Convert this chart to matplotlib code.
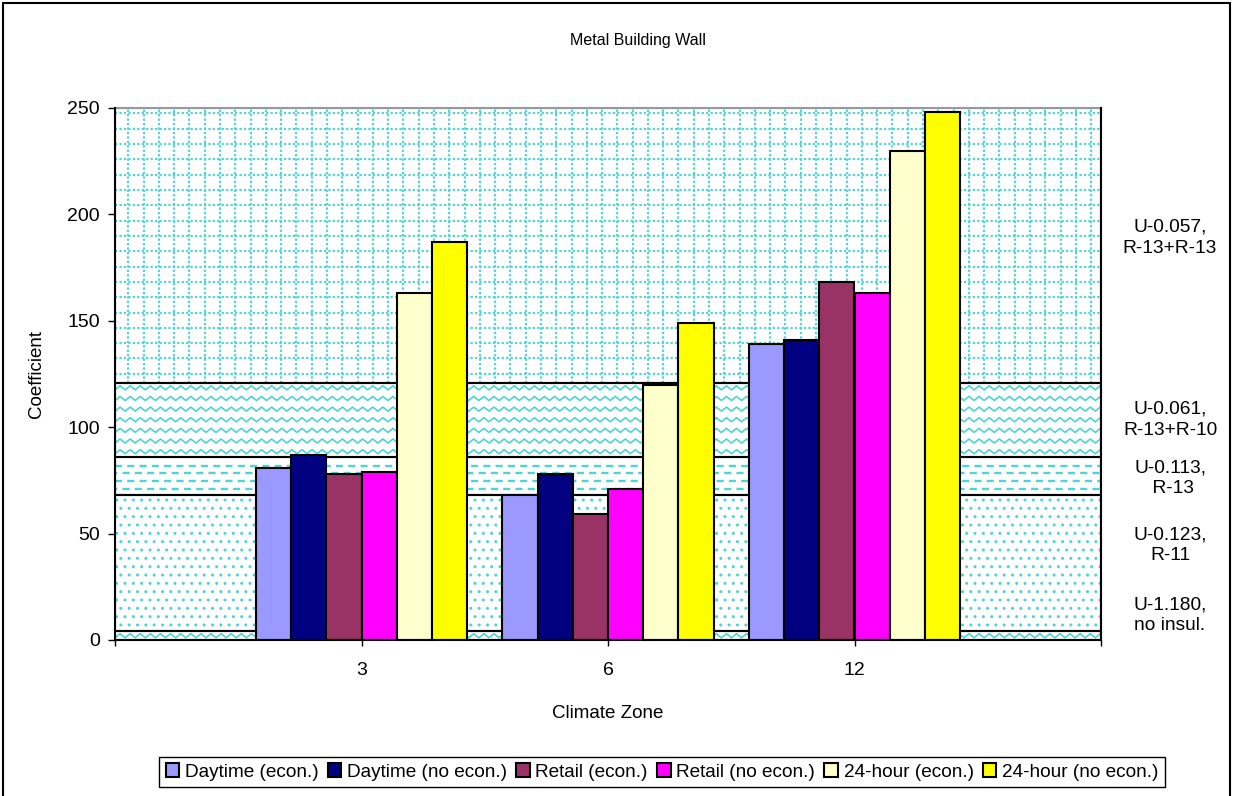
import numpy as np
import matplotlib.pyplot as plt
from matplotlib.patches import Rectangle

plt.rcParams['font.family'] = ['Liberation Sans', 'DejaVu Sans']

# climate zones on the x axis
zones = ['3', '6', '12']

# bar series (coefficient per zone)
series_names = ['Daytime (econ.)', 'Daytime (no econ.)', 'Retail (econ.)',
                'Retail (no econ.)', '24-hour (econ.)', '24-hour (no econ.)']
daytime_econ = [81, 68, 139]
daytime_noecon = [87, 78, 141]
retail_econ = [78, 59, 168]
retail_noecon = [79, 71, 163]
h24_econ = [163, 120, 230]
h24_noecon = [187, 149, 248]
series_colors = ['#9999ff', '#000080', '#993366', '#ff00ff', '#ffffcc', '#ffff00']

# insulation bands behind the bars (bottom to top)
band_edges = [0, 4, 68, 86, 121, 250]
band_labels = ['U-1.180,\nno insul.', 'U-0.123,\nR-11', 'U-0.113,\n R-13',
               'U-0.061,\nR-13+R-10', 'U-0.057,\nR-13+R-13']
band_label_y = [11.5, 44.5, 76, 103.5, 189]

cyan = '#4fd3d3'

fig = plt.figure(figsize=(12.33, 7.96), dpi=100)
ax = fig.add_axes([115 / 1233, 1 - 640 / 796, 986 / 1233, 532 / 796])
ax.set_xlim(-1, 3)
ax.set_ylim(0, 250)

x0, x1 = -1, 3


def zigzag(lo, hi, spacing=4.7, amp=0.95, half=0.0205):
    xs = np.arange(x0, x1 + half, half)
    offs = np.where(np.arange(len(xs)) % 2 == 0, -amp, amp)
    n = max(1, int(round((hi - lo) / spacing)))
    step = (hi - lo) / n
    for k in range(n):
        yc = lo + step * (k + 0.5)
        ax.plot(xs, yc + offs, color=cyan, lw=1.2, zorder=1, solid_joinstyle='round')


# band 0: thin zigzag
zigzag(band_edges[0], band_edges[1])

# band 1: dots
plt.rcParams['hatch.linewidth'] = 1.0
ax.axhspan(band_edges[1], band_edges[2], facecolor='none', edgecolor=cyan,
           hatch='..', lw=0, zorder=1)

# band 2: dashed lines
for k, yy in enumerate(np.arange(band_edges[3] - 4, band_edges[2] + 2, -3.7)):
    ax.hlines(yy, x0, x1, colors=cyan, lw=1.7,
              linestyles=[(2.0 * (k % 2), (3.0, 2.2))], zorder=1)

# band 3: wavy zigzag
zigzag(band_edges[3], band_edges[4])

# band 4: dotted grid
ax.hlines(np.arange(band_edges[5] - 2.5, band_edges[4], -7.2), x0, x1,
          colors=cyan, lw=1.6, linestyles=[(0, (1, 1))], zorder=1)
ax.vlines(np.arange(x0 + 0.054, x1, 0.062), band_edges[4], band_edges[5],
          colors=cyan, lw=1.6, linestyles=[(0, (1, 1))], zorder=1)

# band outlines
for lo, hi in zip(band_edges[:-1], band_edges[1:]):
    ax.axhspan(lo, hi, facecolor='none', edgecolor='black', lw=1.5, zorder=2)

# bars
all_series = [daytime_econ, daytime_noecon, retail_econ, retail_noecon, h24_econ, h24_noecon]
x = np.arange(len(zones))
w = 1 / 7
for i, vals in enumerate(all_series):
    ax.bar(x + (i - 2.5) * w, vals, width=w, color=series_colors[i],
           edgecolor='black', lw=1.5, label=series_names[i], zorder=3)

# band labels on the right
for lab, yy in zip(band_labels, band_label_y):
    ax.text(1.07, yy, lab, transform=ax.get_yaxis_transform(), ha='center',
            va='center', fontsize=13.8, linespacing=1.3, clip_on=False)

ax.set_yticks([0, 50, 100, 150, 200, 250])
ax.set_xticks([-1, 0, 1, 2, 3])
ax.set_xticklabels([''] + zones + [''])
ax.tick_params(axis='y', length=5, width=1, pad=6, labelsize=14)
ax.tick_params(axis='x', length=4, width=1, pad=12, labelsize=14)

for s in ['left', 'bottom', 'right']:
    ax.spines[s].set_linewidth(1.5)
    ax.spines[s].set_zorder(4)
ax.spines['top'].set_color('#999999')
ax.spines['top'].set_linewidth(1.5)

ax.set_ylabel('Coefficient', fontsize=13.5)
ax.yaxis.set_label_coords(-0.071, 0.5)
ax.set_xlabel('Climate Zone', fontsize=13.5)
ax.xaxis.set_label_coords(0.5, -0.122)

fig.text(638 / 1233, 1 - 40 / 796, 'Metal Building Wall', ha='center',
         va='center', fontsize=11.5)

leg = fig.legend(loc='center', bbox_to_anchor=(662 / 1233, 1 - 772 / 796),
                 ncol=6, fontsize=13.7, fancybox=False, edgecolor='black',
                 handlelength=0.7, handleheight=0.7, handletextpad=0.3,
                 columnspacing=0.5, borderpad=0.35, framealpha=1)
leg.get_frame().set_linewidth(1)

# outer chart border
fig.patches.append(Rectangle((3 / 1233, -0.01), 1227 / 1233, 1 - 3 / 796 + 0.01,
                             transform=fig.transFigure, fill=False,
                             edgecolor='black', lw=1.5))

fig.savefig('out.png', dpi=100)
